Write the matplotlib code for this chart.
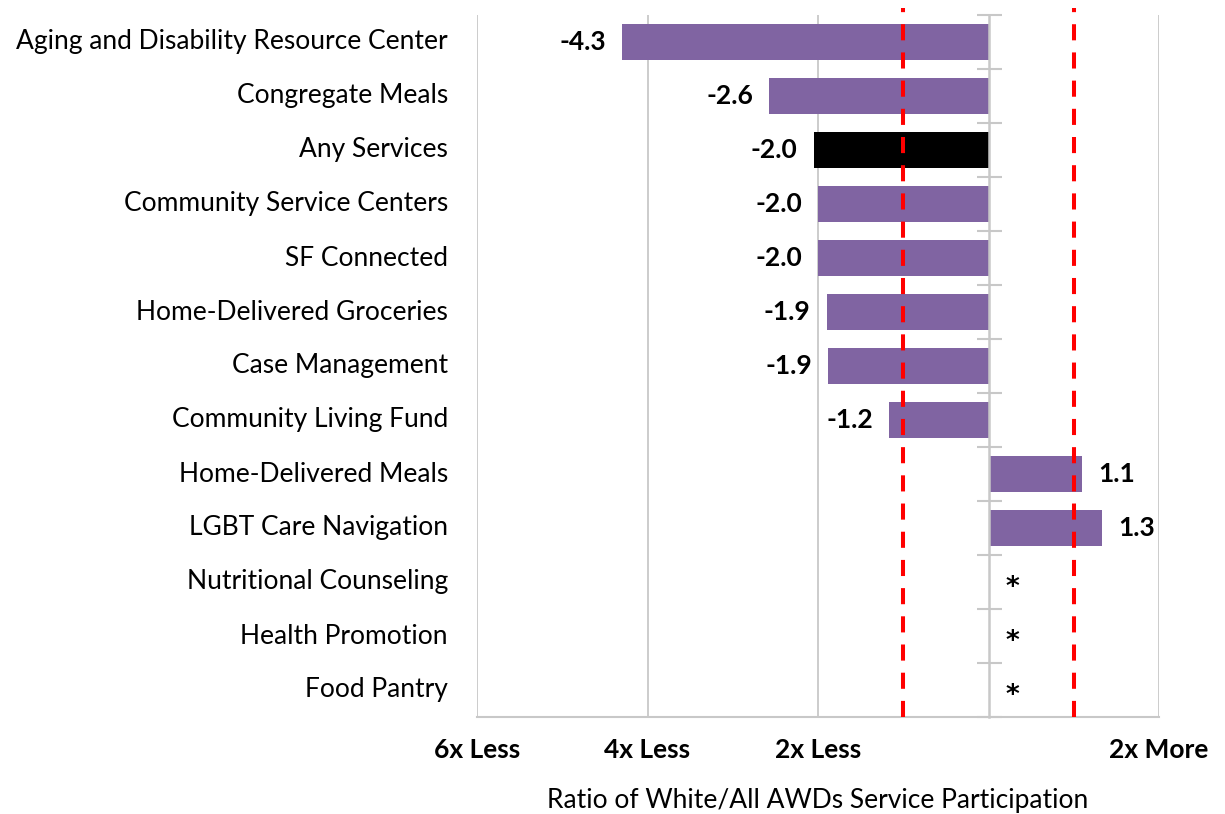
import matplotlib
matplotlib.use("Agg")
import matplotlib.pyplot as plt
import matplotlib.transforms as mtransforms

plt.rcParams['font.family'] = ['Lato', 'DejaVu Sans']

categories = [
    "Aging and Disability Resource Center",
    "Congregate Meals",
    "Any Services",
    "Community Service Centers ",
    "SF Connected",
    "Home-Delivered Groceries",
    "Case Management",
    "Community Living Fund",
    "Home-Delivered Meals",
    "LGBT Care Navigation",
    "Nutritional Counseling",
    "Health Promotion",
    "Food Pantry",
]
values = [-4.3, -2.57, -2.05, -2.0, -2.0, -1.9, -1.88, -1.17, 1.1, 1.33, None, None, None]
value_labels = ["-4.3", "-2.6", "-2.0", "-2.0", "-2.0", "-1.9", "-1.9", "-1.2", "1.1", "1.3", "*", "*", "*"]
highlight = "Any Services"
x_ticks = [-6, -4, -2, 0, 2]
x_tick_labels = ["6x Less", "4x Less", "2x Less", "", "2x More"]
ref_lines = [-1, 1]
xlabel = "Ratio of White/All AWDs Service Participation"

PURPLE = "#8064A2"
GRID = "#C8C8C8"

fig = plt.figure(figsize=(12.25, 8.14), dpi=100)
ax = fig.add_axes([477/1225, 1 - 717/814, (1159-477)/1225, (717-15)/814])

ypos = list(range(len(categories)))
for y, cat, v in zip(ypos, categories, values):
    if v is None:
        continue
    ax.barh(y, v, height=0.667, color=("black" if cat == highlight else PURPLE), zorder=3)

ax.set_xlim(-6, 2)
ax.set_ylim(len(categories) - 0.5, -0.5)

# gridlines
ax.set_xticks(x_ticks)
ax.set_xticklabels(x_tick_labels, fontsize=19, fontweight="bold")
ax.tick_params(axis="x", length=0, pad=15)
for xt in x_ticks:
    if xt != 0:
        ax.axvline(xt, color=GRID, lw=1.3, zorder=1)

# spines
for s in ["top", "right"]:
    ax.spines[s].set_visible(False)
ax.spines["bottom"].set_color(GRID)
ax.spines["bottom"].set_linewidth(1.5)
ax.spines["left"].set_position(("data", 0))
ax.spines["left"].set_color(GRID)
ax.spines["left"].set_linewidth(1.8)
ax.spines["left"].set_zorder(4)

ax.set_yticks([i - 0.5 for i in range(len(categories) + 1)])
ax.set_yticklabels([])
ax.tick_params(axis="y", direction="inout", length=18, width=1.5, color=GRID)

# category labels
trans = mtransforms.blended_transform_factory(fig.transFigure, ax.transData)
for y, cat in zip(ypos, categories):
    ax.text(448/1225, y, cat.rstrip(), transform=trans, ha="right", va="center",
            fontsize=19, color="black")

# value labels
offset_px = 16
for y, v, lab in zip(ypos, values, value_labels):
    if v is None:
        ax.annotate(lab, xy=(0, y), xytext=(17, -6), textcoords="offset pixels",
                    ha="left", va="center", fontsize=19, fontweight="bold", zorder=5,
                    family="DejaVu Sans")
    elif v < 0:
        ax.annotate(lab, xy=(v, y), xytext=(-offset_px, 0), textcoords="offset pixels",
                    ha="right", va="center", fontsize=19, fontweight="bold", zorder=5)
    else:
        ax.annotate(lab, xy=(v, y), xytext=(offset_px, 0), textcoords="offset pixels",
                    ha="left", va="center", fontsize=19, fontweight="bold", zorder=5)

# reference dashed lines
for rx in ref_lines:
    ax.axvline(rx, ymin=0, ymax=1.01, color="#FF0000", lw=2.9, dashes=(4, 3),
               clip_on=False, zorder=6)

ax.set_xlabel(xlabel, fontsize=19, labelpad=19)

fig.savefig("out.png", dpi=100)
